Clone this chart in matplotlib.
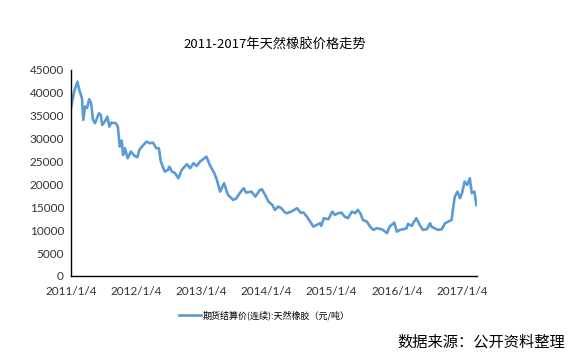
import matplotlib
matplotlib.use('Agg')
import matplotlib.pyplot as plt
import numpy as np

plt.rcParams['font.family'] = ['Noto Sans CJK SC', 'DejaVu Sans']

# 时间（小数年）和结算价（元/吨）
t = [2011.01, 2011.06, 2011.11, 2011.14, 2011.18, 2011.20, 2011.23, 2011.26, 2011.29, 2011.32,
     2011.35, 2011.38, 2011.44, 2011.47, 2011.49, 2011.53, 2011.57, 2011.60, 2011.63, 2011.70,
     2011.73, 2011.76, 2011.79, 2011.81, 2011.84, 2011.88, 2011.93, 2011.99, 2012.03, 2012.06,
     2012.10, 2012.17, 2012.22, 2012.27, 2012.32, 2012.36, 2012.39, 2012.45, 2012.50, 2012.52,
     2012.56, 2012.60, 2012.66, 2012.71, 2012.79, 2012.84, 2012.89, 2012.94, 2012.99, 2013.04,
     2013.09, 2013.14, 2013.21, 2013.25, 2013.30, 2013.36, 2013.42, 2013.50, 2013.55, 2013.60,
     2013.66, 2013.70, 2013.78, 2013.84, 2013.91, 2013.94, 2013.99, 2014.04, 2014.10, 2014.14,
     2014.19, 2014.24, 2014.28, 2014.32, 2014.39, 2014.48, 2014.53, 2014.58, 2014.63, 2014.68,
     2014.73, 2014.78, 2014.83, 2014.85, 2014.89, 2014.96, 2015.02, 2015.06, 2015.11, 2015.16,
     2015.21, 2015.26, 2015.32, 2015.37, 2015.41, 2015.45, 2015.49, 2015.55, 2015.60, 2015.65,
     2015.70, 2015.78, 2015.83, 2015.86, 2015.90, 2015.97, 2016.01, 2016.06, 2016.11, 2016.16,
     2016.18, 2016.24, 2016.26, 2016.31, 2016.36, 2016.41, 2016.47, 2016.52, 2016.54, 2016.59,
     2016.64, 2016.70, 2016.75, 2016.80, 2016.85, 2016.87, 2016.90, 2016.94, 2016.98, 2017.01,
     2017.05, 2017.09, 2017.13, 2017.16, 2017.20, 2017.23]
price = [36600, 40250, 42430, 40600, 38800, 34070, 37000, 36700, 38600, 37700,
         34070, 33350, 35530, 35160, 32980, 33700, 34790, 32600, 33480, 33350,
         32600, 28240, 29550, 26430, 27890, 25700, 27150, 26200, 25920, 27520,
         28240, 29330, 28980, 29110, 27890, 27890, 24960, 22780, 23150, 23870,
         22780, 22560, 21340, 23150, 24390, 23520, 24610, 24020, 24960, 25490,
         26050, 24240, 22430, 20970, 18410, 20250, 17690, 16600, 16970, 18060,
         19150, 18190, 18410, 17320, 18780, 18930, 17690, 16230, 15510, 14410,
         15140, 14790, 14040, 13690, 14040, 14790, 13830, 13830, 12950, 11860,
         10770, 11140, 11510, 10920, 12600, 12380, 14040, 13320, 13690, 13830,
         12950, 12600, 14040, 13690, 14410, 13690, 12230, 11860, 10770, 10050,
         10420, 10200, 9680, 9330, 10770, 11640, 9680, 10050, 10200, 10420,
         11360, 10920, 11510, 12600, 11140, 10050, 10200, 11510, 10770, 10420,
         10050, 10200, 11510, 11860, 12230, 14410, 17320, 18410, 16970, 18060,
         20600, 19880, 21340, 18060, 18410, 15510]

years = [2011, 2012, 2013, 2014, 2015, 2016, 2017]
xlabels = ['%d/1/4' % y for y in years]
yticks = np.arange(0, 45001, 5000)

fig = plt.figure(figsize=(5.81, 3.64), dpi=100)
ax = fig.add_axes([0.122, 0.242, 0.699, 0.566])

ax.plot(t, price, color='#5B9BD5', linewidth=1.9, label='期货结算价(连续):天然橡胶（元/吨）')

ax.set_xlim(2011.01, 2017.24)
ax.set_ylim(0, 45000)
ax.set_xticks([y + 0.01 for y in years])
ax.set_xticklabels(xlabels)
ax.set_yticks(yticks)
ax.set_yticklabels([str(v) for v in yticks])
for lab in ax.get_xticklabels() + ax.get_yticklabels():
    lab.set_family('Lato')
    lab.set_fontsize(8.5)
    lab.set_color('#333333')
ax.tick_params(axis='both', length=0)
ax.tick_params(axis='y', pad=5)
ax.tick_params(axis='x', pad=7)

for s in ['top', 'right']:
    ax.spines[s].set_visible(False)
for s in ['left', 'bottom']:
    ax.spines[s].set_color('black')
    ax.spines[s].set_linewidth(1.0)

fig.text(0.473, 0.877, '2011-2017年天然橡胶价格走势', ha='center', va='center', fontsize=9.5)

ax.legend(loc='center', bbox_to_anchor=(0.455, 0.135), bbox_transform=fig.transFigure,
          frameon=False, fontsize=6.5, handlelength=2.4, handletextpad=0.2)

fig.text(0.972, 0.06, '数据来源：公开资料整理', ha='right', va='center', fontsize=11)

fig.savefig('out.png', dpi=100)
